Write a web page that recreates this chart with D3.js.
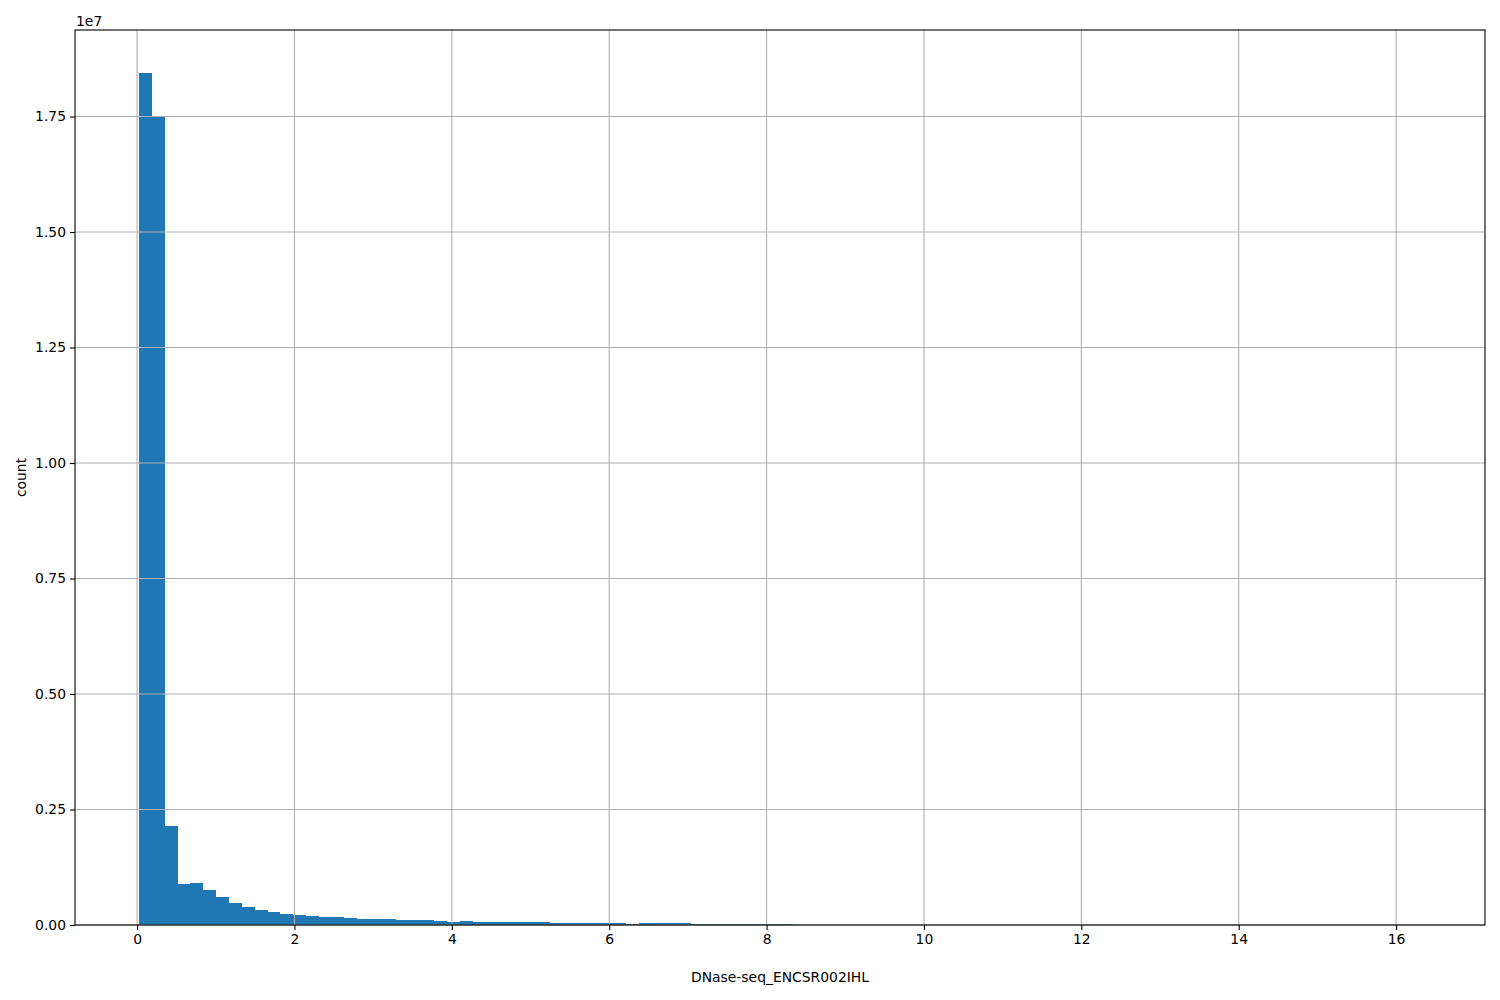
<!DOCTYPE html>
<html>
<head>
<meta charset="utf-8">
<script src="https://cdn.jsdelivr.net/npm/d3@7"></script>
<style>
  html, body { margin: 0; padding: 0; background: #fff; }
  svg { display: block; }
  text { font-family: "DejaVu Sans", sans-serif; }
</style>
</head>
<body>
<svg id="chart" width="1500" height="1000"></svg>
<script>
// ---- data ----
const binStart = 0.0254;
const binWidth = 0.1629;
const counts = [
  18450000, 17485000, 2145000, 890000, 910000, 760000, 610000, 480000, 390000, 330000,
  280000, 240000, 220000, 200000, 180000, 165000, 160000, 140000, 125000, 120000,
  105000, 100000, 100000, 95000, 75000, 90000, 75000, 72000, 70000, 68000,
  66000, 55000, 53000, 52000, 50000, 49000, 48000, 47000, 30000, 45000,
  35000, 34000, 33000, 32000, 31000, 30000, 29000, 28000, 27000, 26000,
  25000, 9000, 7000, 6000, 5000, 4200, 3600, 3000, 2600, 2200,
  1900, 1600, 1400, 1200, 1000, 900, 800, 700, 600, 520,
  450, 400, 350, 300, 260, 230, 200, 170, 150, 130,
  110, 95, 80, 70, 60, 50, 42, 36, 30, 25,
  20, 16, 13, 10, 8, 6, 5, 4, 3, 2
];
const xTicks = [0, 2, 4, 6, 8, 10, 12, 14, 16];
const yTicks = [0, 2500000, 5000000, 7500000, 10000000, 12500000, 15000000, 17500000];
const xLabel = "DNase-seq_ENCSR002IHL";
const yLabel = "count";
const offsetLabel = "1e7";

// ---- layout ----
const mLeft = 75, mRight = 1485, mTop = 30, mBottom = 925;
const svg = d3.select("#chart");

const bins = counts.map((c, i) => ({ x0: binStart + i * binWidth, x1: binStart + (i + 1) * binWidth, count: c }));
const xMin = bins[0].x0, xMax = bins[bins.length - 1].x1;
const xPad = (xMax - xMin) * 0.05;
const x = d3.scaleLinear().domain([xMin - xPad, xMax + xPad]).range([mLeft, mRight]);
const yMax = d3.max(counts) * 1.05;
const y = d3.scaleLinear().domain([0, yMax]).range([mBottom, mTop]);

// bars
svg.append("g").attr("shape-rendering", "crispEdges").selectAll("rect").data(bins).join("rect")
  .attr("x", d => x(d.x0))
  .attr("width", d => x(d.x1) - x(d.x0) + 0.3)
  .attr("y", d => y(d.count))
  .attr("height", d => mBottom - y(d.count))
  .attr("fill", "#1f77b4");

// grid (on top of bars)
const grid = svg.append("g").attr("stroke", "#b0b0b0").attr("stroke-width", 1.1);
grid.selectAll("line.vx").data(xTicks).join("line").attr("class", "vx")
  .attr("x1", d => x(d)).attr("x2", d => x(d)).attr("y1", mTop).attr("y2", mBottom);
grid.selectAll("line.hy").data(yTicks).join("line").attr("class", "hy")
  .attr("x1", mLeft).attr("x2", mRight).attr("y1", d => y(d)).attr("y2", d => y(d));

// axes
const xAxis = d3.axisBottom(x).tickValues(xTicks).tickFormat(d3.format("d")).tickSizeInner(5).tickSizeOuter(0).tickPadding(4);
const yAxis = d3.axisLeft(y).tickValues(yTicks).tickFormat(d => (d / 1e7).toFixed(2)).tickSizeInner(5).tickSizeOuter(0).tickPadding(4);

const gx = svg.append("g").attr("transform", `translate(0,${mBottom})`).call(xAxis);
const gy = svg.append("g").attr("transform", `translate(${mLeft},0)`).call(yAxis);
[gx, gy].forEach(g => {
  g.select(".domain").remove();
  g.selectAll(".tick line").attr("stroke", "#000").attr("stroke-width", 1.1);
  g.selectAll(".tick text").attr("fill", "#000").style("font-size", "13.9px").style("font-family", "DejaVu Sans, sans-serif");
});

// frame
svg.append("rect").attr("x", mLeft).attr("y", mTop).attr("width", mRight - mLeft).attr("height", mBottom - mTop)
  .attr("fill", "none").attr("stroke", "#000").attr("stroke-width", 1.1);

// labels
svg.append("text").attr("x", (mLeft + mRight) / 2).attr("y", 982).attr("text-anchor", "middle")
  .style("font-size", "13.9px").text(xLabel);
svg.append("text").attr("transform", `translate(26,${(mTop + mBottom) / 2}) rotate(-90)`).attr("text-anchor", "middle")
  .style("font-size", "13.9px").text(yLabel);
svg.append("text").attr("x", mLeft + 1).attr("y", 26).attr("text-anchor", "start")
  .style("font-size", "13.9px").text(offsetLabel);
</script>
</body>
</html>
